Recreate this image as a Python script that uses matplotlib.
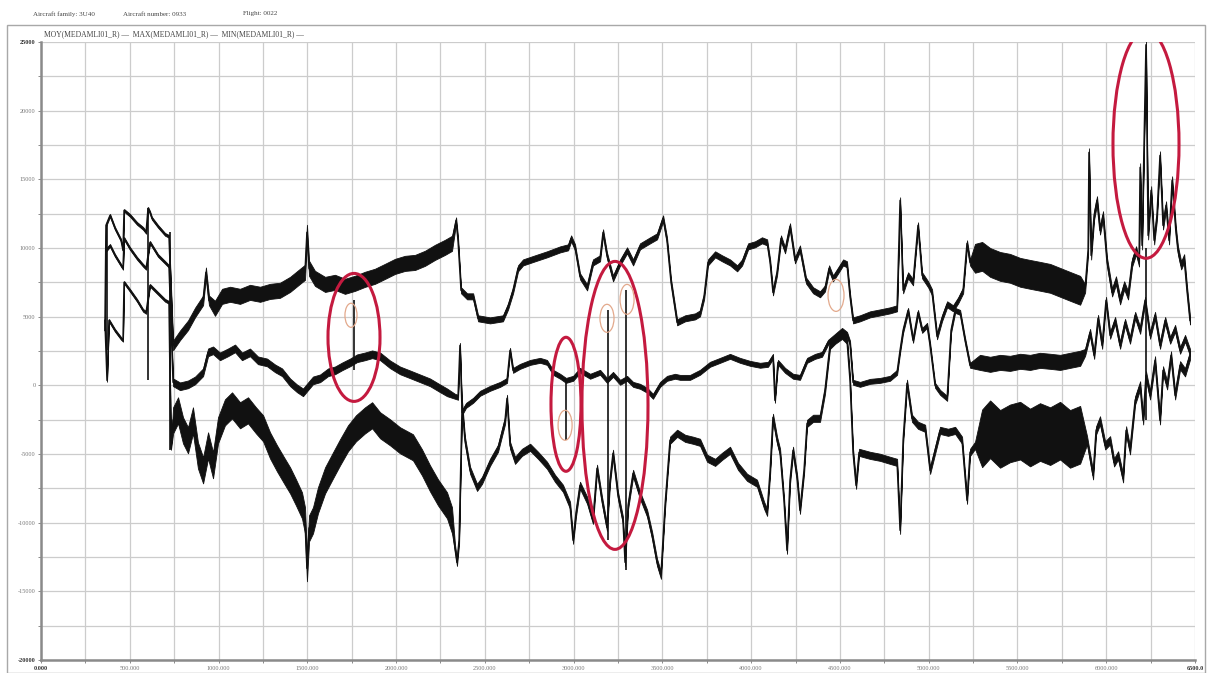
import matplotlib
matplotlib.use("Agg")
import matplotlib.pyplot as plt
from matplotlib.patches import Ellipse, Rectangle
import numpy as np

# MEDAMLI01_R statistics over the flight (time in s)
t_max = [360, 366, 389, 417, 451, 462, 468, 501, 541, 575, 592, 603, 614, 625, 659, 699, 721,
         744, 783, 828, 868, 913, 929, 946, 980, 1020, 1065, 1121, 1177, 1234, 1290, 1346, 1403,
         1459, 1487, 1498, 1510, 1543, 1600, 1656, 1712, 1769, 1825, 1881, 1938, 1994, 2050,
         2107, 2163, 2219, 2276, 2315, 2338, 2349, 2366, 2400, 2434, 2462, 2529, 2602, 2631,
         2659, 2687, 2715, 2783, 2850, 2924, 2969, 2986, 3008, 3036, 3076, 3109, 3149, 3166,
         3188, 3222, 3262, 3301, 3335, 3374, 3431, 3470, 3504, 3526, 3549, 3583, 3628, 3684,
         3712, 3735, 3757, 3797, 3836, 3881, 3921, 3949, 3983, 4022, 4061, 4090, 4107, 4123,
         4146, 4168, 4191, 4219, 4247, 4275, 4309, 4349, 4388, 4416, 4439, 4461, 4490, 4518,
         4540, 4557, 4574, 4613, 4670, 4726, 4782, 4822, 4839, 4856, 4884, 4912, 4940, 4963,
         4997, 5019, 5047, 5075, 5104, 5137, 5166, 5194, 5216, 5233, 5261, 5301, 5346, 5402,
         5458, 5515, 5571, 5627, 5684, 5740, 5796,
         5853, 5881, 5898, 5903, 5915, 5932, 5948, 5965, 5982, 6005, 6033, 6055, 6078, 6101,
         6123, 6146, 6168, 6185, 6191, 6202, 6224, 6236, 6253, 6270, 6286, 6303, 6320, 6337,
         6354, 6371, 6392, 6404, 6422, 6439, 6455, 6472]
v_max = [4000, 11650, 12380, 11430, 10560, 9830, 12740, 12380, 11790, 11430, 11140, 12890, 12590,
         12160, 11580, 10990, 10850,
         2910, 3640, 4370, 5310, 6190, 8230, 6190, 5610, 6480, 6630, 6480, 6770, 6630, 6840, 6920,
         7350, 7940, 8230, 11140, 8520, 7790, 7350, 7500, 7210, 7430, 7720, 7940, 8300, 8660,
         8880, 8950, 9250, 9680, 10050, 10340, 12010, 10560, 6920, 6480, 6480, 4880, 4730, 4880,
         5750, 6920, 8520, 8950, 9250, 9540, 9900, 10050, 10700, 10050, 7940, 7130, 8950, 9250,
         11140, 9460, 7790, 8950, 9830, 8950, 10120, 10560, 10850, 12160, 10560, 7500, 4590,
         4880, 5020, 5240, 6480, 8950, 9540, 9250, 8950, 8520, 8950, 10120, 10270, 10560, 10410,
         8950, 6770, 8230, 10700, 9830, 11580, 9100, 9970, 7640, 6920, 6630, 7060, 8520, 7790,
         8370, 8950, 8810, 6480, 4730, 4880, 5170, 5310, 5460, 5610, 13470, 6920, 8010, 7500,
         11650, 8010, 7350, 6770, 3570, 4880, 5900, 5610, 6190, 6920, 10340, 8950, 9250, 9390,
         8950, 8660, 8520, 8230, 8080, 7940, 7790, 7500, 7210,
         6920, 7060, 9830, 16960, 9460, 12380, 13470, 11280, 12380, 8950, 6770, 7640, 6190, 7280,
         6550, 8950, 9830, 8950, 15870, 10190, 24800, 10920, 14200, 10560, 12380, 16740, 11650,
         13100, 10560, 14920, 11280, 9830, 8740, 9250, 6920, 4730]

t_moy = [366, 389, 417, 451, 462, 468, 501, 541, 575, 592, 614, 659, 699, 721,
         744, 783, 828, 868, 913, 941, 969, 1008, 1053, 1093, 1132, 1177, 1222, 1273, 1318, 1358,
         1403, 1442, 1476, 1504, 1532, 1572, 1617, 1656, 1696, 1741, 1780, 1825, 1865, 1910,
         1966, 2022, 2079, 2135, 2191, 2248, 2287, 2332, 2349, 2360, 2372, 2394, 2434, 2473,
         2529, 2586, 2625, 2642, 2659, 2698, 2755, 2811, 2850, 2884, 2924, 2957, 2997, 3036,
         3093, 3149, 3188, 3222, 3262, 3301, 3335, 3374, 3414, 3447, 3487, 3526, 3571, 3599,
         3656, 3712, 3768, 3825, 3881, 3937, 3994, 4050, 4095, 4123, 4134, 4151, 4191, 4236,
         4275, 4315, 4360, 4399, 4433, 4473, 4512, 4540, 4557, 4574, 4613, 4670, 4726, 4782,
         4822, 4839, 4856, 4884, 4912, 4940, 4963, 4991, 5008, 5036, 5064, 5104, 5126, 5149,
         5177, 5205, 5233, 5289, 5346, 5402, 5458, 5515, 5571, 5627, 5684, 5740, 5796,
         5853, 5881, 5909, 5932, 5954, 5977, 5999, 6022, 6050, 6078, 6106, 6134, 6163, 6191,
         6219, 6247, 6275, 6303, 6332, 6360, 6388, 6416, 6444, 6472]
v_moy = [9830, 10190, 9460, 8740, 8520, 10700, 9970, 9250, 8740, 8520, 10410, 9460, 8950, 8660,
         220, -70, 70, 360, 950, 2400, 2550, 2110, 2400, 2690, 2110, 2400, 1820, 1670, 1240, 950,
         220, -220, -510, -70, 360, 510, 950, 1090, 1380, 1670, 1970, 2110, 2260, 2110,
         1530, 1090, 800, 510, 220, -220, -510, -800, -870, 2910, -1970, -1460, -1090, -580,
         -220, 70, 360, 2550, 1090, 1380, 1670, 1820, 1670, 950, 660, 360, 510, 1090,
         660, 950, 360, 800, 220, 510, 70, -70, -360, -800, 70, 510, 660, 580,
         580, 950, 1530, 1820, 2110, 1820, 1600, 1460, 1530, 2110, -1090, 1670, 1090, 660,
         580, 1820, 2110, 2260, 3130, 3570, 4000, 3710, 3060, 220, 70, 290, 360, 510,
         950, 2550, 4000, 5460, 3280, 5310, 4000, 4370, 2910, 0, -510, -950, 4000, 5460,
         5310, 3280, 1460, 1670, 1530, 1670, 1600, 1750, 1670, 1820, 1750, 1670, 1820,
         1970, 2400, 3860, 2180, 4880, 2910, 6190, 3640, 4730, 2910, 4590, 3280, 5100, 4000,
         6190, 3640, 5100, 2910, 4730, 3280, 4150, 2550, 3420, 2400]

t_min = [360, 372, 383, 417, 451, 462, 468, 501, 541, 575, 592, 614, 659, 699, 721,
         732, 744, 772, 800, 828, 856, 884, 913, 941, 969, 997, 1036, 1076, 1121, 1166, 1211,
         1251, 1290, 1329, 1369, 1403, 1436, 1470, 1487, 1498, 1510, 1532, 1560, 1600, 1645,
         1684, 1729, 1774, 1825, 1865, 1910, 1966, 2022, 2095, 2146, 2191, 2236, 2287, 2315,
         2332, 2343, 2355, 2372, 2388, 2417, 2456, 2484, 2529, 2574, 2614, 2625, 2642, 2670,
         2709, 2755, 2800, 2850, 2895, 2940, 2980, 2997, 3014, 3036, 3076, 3109, 3132, 3160,
         3188, 3205, 3222, 3250, 3278, 3290, 3307, 3335, 3374, 3414, 3442, 3470, 3492, 3515,
         3543, 3583, 3628, 3673, 3712, 3752, 3797, 3836, 3881, 3926, 3977, 4033, 4073, 4090,
         4107, 4123, 4146, 4163, 4185, 4202, 4219, 4236, 4259, 4275, 4298, 4315, 4349, 4388,
         4416, 4444, 4473, 4512, 4540, 4557, 4574, 4591, 4608, 4670, 4726, 4782, 4822, 4839,
         4856, 4878, 4906, 4940, 4980, 5008, 5036, 5064, 5109, 5149, 5188, 5216, 5233, 5261,
         5301, 5346, 5402, 5458, 5515, 5571, 5627, 5684, 5740, 5796,
         5853, 5892, 5926, 5943, 5965, 5994, 6022, 6044, 6067, 6095, 6112, 6134, 6163, 6191,
         6208, 6224, 6247, 6275, 6303, 6320, 6343, 6365, 6388, 6416, 6444, 6472]
v_min = [4730, 360, 4730, 4000, 3420, 3280, 7500, 6920, 6190, 5460, 5310, 7280, 6700, 6190, 6040,
         -4590, -2550, -1820, -3280, -4000, -2550, -5100, -6190, -4370, -5820, -3280, -1970,
         -1460, -2180, -1820, -2550,
         -3130, -4370, -5310, -6190, -6920, -7790, -8740, -9830, -13320, -10410, -9830, -8370,
         -6920, -5820,
         -4880, -3860, -3130, -2550, -2180, -2910, -3420, -4000, -4510, -5610, -6770, -7790,
         -8740, -9830,
         -11870, -12890, -11280, -1460, -4000, -6190, -7430, -6920, -5610, -4590, -2550, -950,
         -4370, -5460,
         -4880, -4510, -5100, -5820, -6770, -7500, -8740, -11280, -9250, -7280, -8370, -9830,
         -6040, -8370,
         -10340, -6920, -4950, -8010, -9830, -12890, -8740, -6410, -8010, -9320, -10920,
         -12890, -13830, -8740,
         -4000, -3490, -3860, -4000, -4150, -5310, -5610, -5170, -4730, -5900, -6700, -7130,
         -8740, -9250,
         -6190, -2330, -4000, -4880, -8370, -12010, -6920, -4730, -6770, -9100, -6190, -2770,
         -2400, -2400,
         -360, 2910, 3280, 3640, 3280, 360, -4880, -7280, -4880, -5100, -5240, -5460, -5610,
         -10560,
         -4000, 150, -2400, -2910, -3130, -6190, -4730, -3280, -3420, -3280, -4000, -8370,
         -4880, -4370,
         -3860, -3200, -3900, -3500, -3300, -3800, -3400, -3700, -3300, -3900,
         -3600, -4000, -6550, -3280, -2550, -4370, -4000, -5610, -5100, -6770, -3280, -4730,
         -1090, 0, -2550, 730, -730, 1820, -2550, 1090, 0, 2180, -730, 1460, 950, 2180]

# thin vertical excursions: time, from, to
spike_t = [372, 603, 727, 1763, 2957, 3194, 3295, 6224]
spike_hi = [11650, 12890, 11140, 6190, 360, 5460, 6920, 10000]
spike_lo = [2550, 360, -4730, 1090, -4000, -11280, -13470, -2550]

# scatter half-width of each trace over time: (start, end, half-width)
max_spread = [(360, 740, 100), (740, 980, 350), (980, 2330, 550), (2330, 5260, 220),
              (5260, 5880, 1050), (5880, 6500, 300)]
moy_spread = [(360, 740, 100), (740, 2330, 280), (2330, 5260, 180), (5260, 5880, 550),
              (5880, 6500, 250)]
min_spread = [(360, 740, 100), (740, 2330, 950), (2330, 5290, 260), (5290, 5880, 2100),
              (5880, 6500, 300)]

# highlighted events: centre time, centre value, width (s), height
mark_t = [1763, 2957, 3233, 6224]
mark_v = [3490, -1380, -1460, 17550]
mark_w = [293, 169, 372, 372]
mark_h = [9320, 9760, 20970, 16600]

detail_t = [1746, 2952, 3188, 3301, 4478]
detail_v = [5100, -2910, 4880, 6260, 6550]
detail_w = [68, 79, 79, 79, 90]
detail_h = [1750, 2180, 2040, 2180, 2330]

fig = plt.figure(figsize=(12.08, 6.73), dpi=100)
fig.patch.set_facecolor("white")
ax = fig.add_axes([41 / 1208, 13 / 673, 1154 / 1208, 618 / 673])

serif = ["Liberation Serif", "DejaVu Serif"]


def draw_series(t, v, spread):
    t = np.array(t, dtype=float)
    v = np.array(v, dtype=float)
    hw = np.zeros_like(v)
    for t0, t1, h in spread:
        hw[(t >= t0) & (t <= t1)] = h
    ax.fill_between(t, v - hw, v + hw, color="#111111", lw=0.6, zorder=3)
    ax.plot(t, v, color="#111111", lw=1.1, zorder=3)


draw_series(t_max, v_max, max_spread)
draw_series(t_moy, v_moy, moy_spread)
draw_series(t_min, v_min, min_spread)
ax.vlines(spike_t, spike_lo, spike_hi, color="#111111", lw=1.2, zorder=3)

for t, v, w, h in zip(mark_t, mark_v, mark_w, mark_h):
    ax.add_patch(Ellipse((t, v), w, h, fill=False, ec="#c41a3f", lw=2.2, zorder=4))
for t, v, w, h in zip(detail_t, detail_v, detail_w, detail_h):
    ax.add_patch(Ellipse((t, v), w, h, fill=False, ec="#e3a98c", lw=0.9, zorder=4))

ax.set_xlim(0, 6500)
ax.set_ylim(-20000, 25000)

xt = np.arange(0, 6501, 250)
xlabels = []
for x in xt:
    if x == 0:
        xlabels.append("0.000")
    elif x == 6500:
        xlabels.append("6500.0")
    elif x % 500 == 0:
        xlabels.append(f"{x:.3f}")
    else:
        xlabels.append("")
ax.set_xticks(xt)
ax.set_xticklabels(xlabels)

yt = np.arange(-20000, 25001, 2500)
ax.set_yticks(yt)
ax.set_yticklabels([f"{y}" if y % 5000 == 0 else "" for y in yt])

ax.tick_params(axis="both", labelsize=4.5, colors="#777777", length=2, width=0.6, pad=2)
for lab in ax.get_xticklabels() + ax.get_yticklabels():
    lab.set_family(serif)
for labs in (ax.get_xticklabels(), ax.get_yticklabels()):
    for i in (0, len(labs) - 1):
        labs[i].set_fontweight("bold")
        labs[i].set_color("#333333")

ax.grid(True, color="#cccccc", lw=0.9)
ax.set_axisbelow(True)
for side in ("top", "right"):
    ax.spines[side].set_visible(False)
for side in ("left", "bottom"):
    ax.spines[side].set_color("#8a8a8a")
    ax.spines[side].set_linewidth(1.8)

# outer frame of the report page
fig.add_artist(Rectangle((7 / 1208, 0), 1198 / 1208, 648 / 673, transform=fig.transFigure,
                         fill=False, ec="#a8a8a8", lw=1.0))

fig.text(33 / 1208, 1 - 14 / 673, "Aircraft family: 3U40", fontsize=5, family=serif,
         color="#444444", va="center")
fig.text(123 / 1208, 1 - 14 / 673, "Aircraft number: 0933", fontsize=5, family=serif,
         color="#444444", va="center")
fig.text(243 / 1208, 1 - 14 / 673, "Flight: 0022", fontsize=5, family=serif,
         color="#444444", va="center")
fig.text(44 / 1208, 1 - 34 / 673,
         "MOY(MEDAMLI01_R) \u2014  MAX(MEDAMLI01_R) \u2014  MIN(MEDAMLI01_R) \u2014",
         fontsize=5.5, family=serif, color="#444444", va="center")

fig.savefig("out.png", dpi=100)
